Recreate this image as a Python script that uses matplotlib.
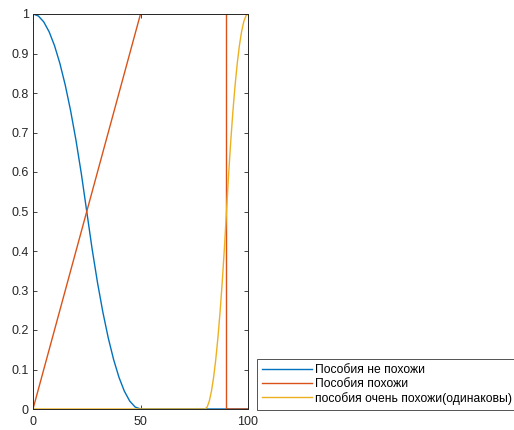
import numpy as np
import matplotlib.pyplot as plt

plt.rcParams['font.family'] = ['Liberation Sans', 'DejaVu Sans']

# values
blue_x = [0, 2.5, 5, 7.5, 10, 12.5, 15, 17.5, 20, 22.5, 25, 27.5, 30, 32.5,
          35, 37.5, 40, 42.5, 45, 47.5, 50, 100]
blue_y = [1.0, 0.995, 0.98, 0.955, 0.92, 0.875, 0.82, 0.755, 0.68, 0.595, 0.5,
          0.405, 0.32, 0.245, 0.18, 0.125, 0.08, 0.045, 0.02, 0.005, 0.0, 0.0]

red_x = [0, 50, 90, 90, 100]
red_y = [0, 1, 1, 0, 0]

yellow_x = [0, 80, 81, 82, 83, 84, 85, 86, 87, 88, 89, 90, 91, 92, 93, 94, 95,
            96, 97, 98, 99, 100]
yellow_y = [0, 0, 0.005, 0.02, 0.045, 0.08, 0.125, 0.18, 0.245, 0.32, 0.405,
            0.5, 0.595, 0.68, 0.755, 0.82, 0.875, 0.92, 0.955, 0.98, 0.995, 1.0]

labels = ["Пособия не похожи", "Пособия похожи",
          "пособия очень похожи(одинаковы)"]
colors = ["#0072BD", "#D95319", "#EDB120"]

fig = plt.figure(figsize=(5.14, 4.30), dpi=100)
ax = fig.add_axes([33 / 514, 21 / 430, 215 / 514, 395 / 430])

ax.plot(blue_x, blue_y, color=colors[0], lw=1.0, label=labels[0])
ax.plot(red_x, red_y, color=colors[1], lw=1.0, label=labels[1])
ax.plot(yellow_x, yellow_y, color=colors[2], lw=1.0, label=labels[2])

ax.set_xlim(0, 100)
ax.set_ylim(0, 1)
ax.set_xticks([0, 50, 100])
ax.set_yticks(np.round(np.arange(0, 1.01, 0.1), 1))
ax.set_yticklabels(["0", "0.1", "0.2", "0.3", "0.4", "0.5", "0.6", "0.7",
                    "0.8", "0.9", "1"])
ax.tick_params(direction="in", top=True, right=True, length=3, width=0.6,
               labelsize=9, colors="#262626", pad=3)
ax.tick_params(axis="x", pad=5)
for s in ax.spines.values():
    s.set_linewidth(0.7)
    s.set_color("#262626")

leg = fig.legend(loc="lower left", bbox_to_anchor=(257 / 514, 20 / 430),
                 fontsize=8.7, frameon=True, fancybox=False, handlelength=4.1,
                 handletextpad=0.25, borderpad=0.45, labelspacing=0.15,
                 borderaxespad=0)
leg.get_frame().set_edgecolor("#262626")
leg.get_frame().set_linewidth(0.7)

fig.savefig("out.png", dpi=100)
